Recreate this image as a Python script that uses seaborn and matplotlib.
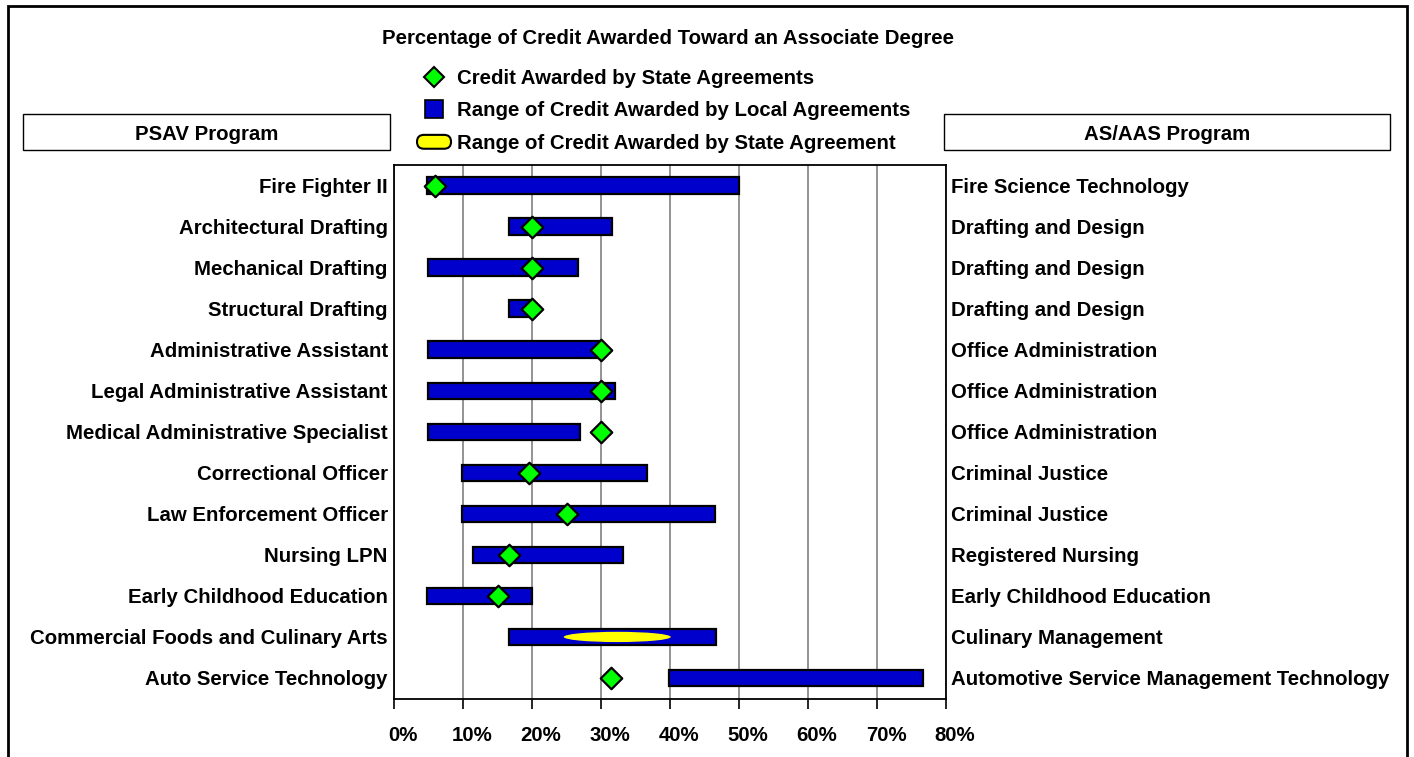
import numpy as np
import pandas as pd
import matplotlib
matplotlib.use("Agg")
import matplotlib.pyplot as plt
import matplotlib.transforms as mtransforms
from matplotlib import font_manager
import seaborn as sns
from matplotlib.patches import Rectangle, Ellipse, FancyBboxPatch, Patch
from matplotlib.lines import Line2D
from matplotlib.legend_handler import HandlerPatch

# PSAV programs (left) and matching AS/AAS programs (right)
programs = ["Fire Fighter II", "Architectural Drafting", "Mechanical Drafting",
            "Structural Drafting", "Administrative Assistant",
            "Legal Administrative Assistant", "Medical Administrative Specialist",
            "Correctional Officer", "Law Enforcement Officer", "Nursing LPN",
            "Early Childhood Education", "Commercial Foods and Culinary Arts",
            "Auto Service Technology"]
degrees = ["Fire Science Technology", "Drafting and Design", "Drafting and Design",
           "Drafting and Design", "Office Administration", "Office Administration",
           "Office Administration", "Criminal Justice", "Criminal Justice",
           "Registered Nursing", "Early Childhood Education", "Culinary Management",
           "Automotive Service Management Technology"]

# range of credit awarded by local agreements (%)
local_low = [4.8, 16.6, 4.9, 16.6, 4.9, 4.9, 4.9, 9.8, 9.8, 11.5, 4.8, 16.6, 39.9]
local_high = [50.0, 31.6, 26.7, 20.2, 30.0, 32.1, 26.9, 36.6, 46.5, 33.2, 20.0, 46.6, 76.7]

# credit awarded by state agreements (%)
state_credit = [6.0, 20.0, 20.0, 20.0, 30.0, 30.0, 30.0, 19.5, 25.0, 16.6, 15.0, np.nan, 31.5]

# range of credit awarded by state agreement
range_program = ["Commercial Foods and Culinary Arts"]
range_low = [24.6]
range_high = [40.1]

xticks = [0, 10, 20, 30, 40, 50, 60, 70, 80]

sns.set_theme(style="white")

# pick a narrow font if there is one, otherwise a smaller Arial-like one
installed = {f.name for f in font_manager.fontManager.ttflist}
if "Liberation Sans Narrow" in installed:
    family, FS = "Liberation Sans Narrow", 16
elif "DejaVu Sans Condensed" in installed:
    family, FS = "DejaVu Sans Condensed", 14
else:
    family, FS = "Liberation Sans", 14.7
plt.rcParams['font.family'] = [family, 'DejaVu Sans']
plt.rcParams['font.weight'] = 'bold'
for k in ['text.color', 'axes.labelcolor', 'xtick.color', 'ytick.color']:
    plt.rcParams[k] = 'black'

W, H = 1414, 757
fig = plt.figure(figsize=(W / 100, H / 100), dpi=100)
fig.patch.set_facecolor("white")
ax = fig.add_axes([394 / W, 1 - 698.5 / H, 552 / W, 533.5 / H])

ypos = np.arange(len(programs))
df = pd.DataFrame({"program": programs, "y": ypos, "low": local_low,
                   "high": local_high, "state": state_credit})

# local agreement ranges
ax.barh(df["y"], df["high"] - df["low"], left=df["low"], height=0.4,
        color="#0000CC", edgecolor="black", linewidth=1.6, zorder=3)

# state agreement range (yellow ellipse)
for prog, lo, hi in zip(range_program, range_low, range_high):
    yy = programs.index(prog)
    ax.add_patch(Ellipse(((lo + hi) / 2, yy), hi - lo, 0.25,
                         facecolor="#FFFF00", edgecolor="none", zorder=4))

# state agreement points
sns.scatterplot(data=df.dropna(subset=["state"]), x="state", y="y", marker="D",
                s=120, color="#00FF00", edgecolor="black", linewidth=1.6,
                zorder=5, ax=ax, legend=False)

ax.set_xlim(0, 80)
ax.set_ylim(12.5, -0.5)
ax.set_xticks(xticks)
ax.set_xticklabels([f"{v}%" for v in xticks], fontsize=FS, fontweight="bold")
ax.set_yticks(ypos)
ax.set_yticklabels(programs, fontsize=FS, fontweight="bold")
ax.set_xlabel("")
ax.set_ylabel("")
ax.xaxis.grid(True, color="#808080", linewidth=1.2)
ax.yaxis.grid(False)
ax.set_axisbelow(True)
ax.tick_params(axis="x", bottom=True, direction="out", length=7, width=1.2,
               color="black", pad=13)
ax.tick_params(axis="y", left=False, length=0, pad=4.5)
for s in ax.spines.values():
    s.set_visible(True)
    s.set_color("black")
    s.set_linewidth(1.3)

# shift x tick labels slightly right like the original
offset = mtransforms.ScaledTranslation(9 / 100, 0, fig.dpi_scale_trans)
for lbl in ax.get_xticklabels():
    lbl.set_transform(lbl.get_transform() + offset)

# right-hand labels
ax2 = ax.twinx()
ax2.set_ylim(ax.get_ylim())
ax2.set_yticks(ypos)
ax2.set_yticklabels(degrees, fontsize=FS, fontweight="bold")
ax2.tick_params(axis="y", right=False, length=0, pad=3.5)
ax2.grid(False)
for s in ax2.spines.values():
    s.set_visible(False)

# title
fig.text(668 / W, 1 - 39 / H, "Percentage of Credit Awarded Toward an Associate Degree",
         ha="center", va="center", fontsize=FS, fontweight="bold")

# header boxes
for x0, x1, txt in [(23, 390, "PSAV Program"), (944, 1390, "AS/AAS Program")]:
    fig.patches.append(Rectangle((x0 / W, 1 - 150 / H), (x1 - x0) / W, 36 / H,
                                 transform=fig.transFigure, fill=False,
                                 edgecolor="black", linewidth=1.0))
    fig.text((x0 + x1) / 2 / W, 1 - 134 / H, txt, ha="center", va="center",
             fontsize=FS, fontweight="bold")

# outer frame (open at the bottom)
fig.patches.append(Rectangle((8 / W, -0.05), (1407 - 8) / W, 1.05 - 6 / H,
                             transform=fig.transFigure, fill=False,
                             edgecolor="black", linewidth=2.0))


def make_capsule(legend, orig_handle, xdescent, ydescent, width, height, fontsize):
    hh = 10
    yc = -ydescent + height / 2
    return FancyBboxPatch((-xdescent, yc - hh / 2), width, hh,
                          boxstyle=f"round,pad=0,rounding_size={hh / 2}")


h1 = Line2D([], [], marker="D", ms=10, mfc="#00FF00", mec="black", mew=1.5, ls="none")
h2 = Line2D([], [], marker="s", ms=13, mfc="#0000CC", mec="black", mew=1.2, ls="none")
h3 = Patch(facecolor="#FFFF00", edgecolor="black", linewidth=1.5)
fig.legend([h1, h2, h3],
           ["Credit Awarded by State Agreements",
            "Range of Credit Awarded by Local Agreements",
            "Range of Credit Awarded by State Agreement"],
           handler_map={h3: HandlerPatch(patch_func=make_capsule)},
           loc="upper left", bbox_to_anchor=(417 / W, 1 - 69 / H),
           bbox_transform=fig.transFigure, frameon=False,
           prop={"weight": "bold", "size": FS},
           borderpad=0, borderaxespad=0, handlelength=24.5 / FS,
           handletextpad=0.3, labelspacing=0.66)

fig.savefig("out.png", dpi=100, facecolor="white")
